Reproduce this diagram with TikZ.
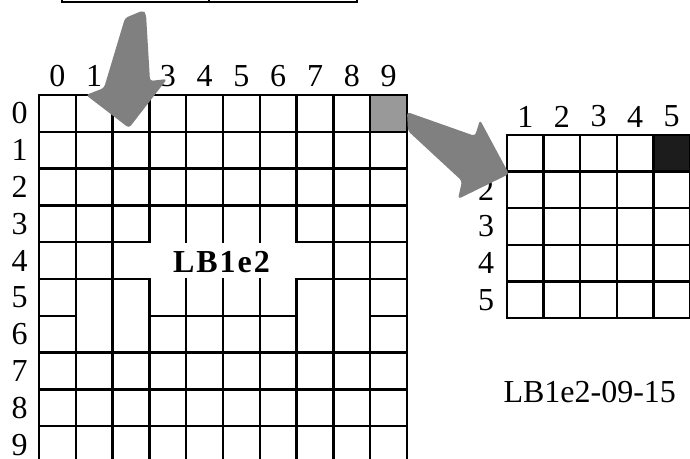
\documentclass[tikz,border=0pt]{standalone}
\usepackage{fontspec}
\setmainfont{Liberation Serif}
\usetikzlibrary{calc,positioning}
\usepackage{xcolor}
\definecolor{arrowgray}{RGB}{128,128,128}
\definecolor{pickgray}{RGB}{153,153,153}
\definecolor{pickblack}{RGB}{28,28,28}

\begin{document}
\begin{tikzpicture}[x=0.5pt,y=-0.5pt]
  \tikzset{
    gridline/.style={draw=black,line width=1.25pt,line cap=rect},
    lbl/.style={font=\fontsize{16}{19}\selectfont,inner sep=0pt},
    bigarrow/.style={fill=arrowgray,rounded corners=1.5pt},
  }
  \useasboundingbox (0,0) rectangle (690,459);
  \clip (0,0) rectangle (690,459);
  \def\cs{36.8}
  \def\ct{36.6}

  % box above, cut off
  \draw[gridline] (62,-10) |- (357,2) -- (357,-10);
  \draw[gridline] (209,-10) -- (209,2);

  % big grid
  \fill[pickgray] (39+9*\cs,95) rectangle ++(\cs,\cs);
  \foreach \j in {0,1,2,3,7,8,9,10}
    \draw[gridline] (39,95+\j*\cs) -- ++(10*\cs,0);
  \foreach \j in {4,5}
    \draw[gridline] (39,95+\j*\cs) -- ++(3*\cs,0)
                    (39+7*\cs,95+\j*\cs) -- ++(3*\cs,0);
  \draw[gridline] (39,95+6*\cs) -- ++(\cs,0)
                  (39+3*\cs,95+6*\cs) -- ++(4*\cs,0)
                  (39+9*\cs,95+6*\cs) -- ++(\cs,0);
  \foreach \i in {0,1,2,8,9,10}
    \draw[gridline] (39+\i*\cs,95) -- ++(0,10*\cs);
  \foreach \i in {3,...,7}
    \draw[gridline] (39+\i*\cs,95) -- ++(0,4*\cs)
                    (39+\i*\cs,95+5*\cs) -- ++(0,5*\cs);

  \foreach \c in {0,1,3,4,5,6,7,8,9}
    \node[lbl] (col\c) at (39+\c*\cs+\cs/2,76) {\c};
  \foreach \r in {0,...,9}
    \node[lbl] (row\r) at (19.5,95+\r*\cs+\cs/2) {\r};
  \node[lbl,font=\fontsize{16}{19}\selectfont\bfseries\addfontfeature{LetterSpace=6}]
    (name) at (221.5,262) {LB1e2};

  % small grid
  \fill[pickblack] (507+4*\ct,135) rectangle ++(\ct,\ct);
  \foreach \j in {0,...,5}
    \draw[gridline] (507,135+\j*\ct) -- ++(5*\ct,0);
  \foreach \i in {0,...,5}
    \draw[gridline] (507+\i*\ct,135) -- ++(0,5*\ct);

  \foreach \c in {1,...,5}
    \node[lbl] (scol\c) at (507+\c*\ct-\ct/2,116.5) {\c};
  \foreach \r in {2,...,5}
    \node[lbl] (srow\r) at (486,135+\r*\ct-\ct/2) {\r};

  \node[lbl] (tag) at (589.7,391.7) {LB1e2-09-15};

  % arrows
  \fill[bigarrow] (125,18) -- (143,10.5) -- (146,14) -- (150,81) -- (167,79)
    -- (129,128) -- (86,95) -- (104,88) -- cycle;
  \fill[bigarrow] (407,112) -- (475,136) -- (480,120) -- (509,174)
    -- (458,199) -- (462,181) -- (408,131) -- cycle;
\end{tikzpicture}
\end{document}
